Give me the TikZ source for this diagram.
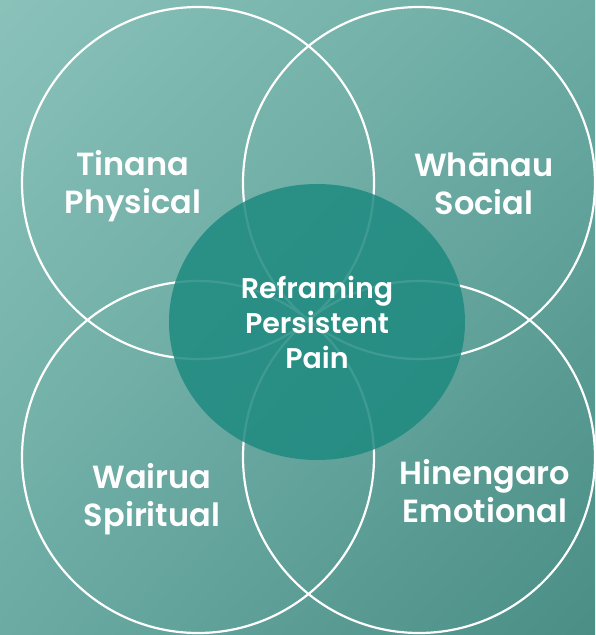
\documentclass[tikz,border=0pt]{standalone}
\usepackage{fontspec}
\setmainfont{Poppins}[UprightFont=* SemiBold]
\usetikzlibrary{shadings}
\begin{document}
\begin{tikzpicture}[x=1pt,y=-1pt,
  ring/.style={draw=white,line width=2.2pt},
  lbl/.style={text=white,align=center,inner sep=0pt,font=\fontsize{32}{38}\selectfont},
  clbl/.style={text=white,align=center,inner sep=0pt,font=\fontsize{28.5}{35}\selectfont}]
\definecolor{bgA}{HTML}{8AC2BA}
\definecolor{bgM}{HTML}{6BABA3}
\definecolor{bgB}{HTML}{4A8E86}
\definecolor{core}{HTML}{1E8A80}
\useasboundingbox (0,0) rectangle (595,635);
\shade[upper left=bgA,upper right=bgM,lower left=bgM,lower right=bgB] (0,0) rectangle (595,635);
\coordinate (ctl) at (198,183);
\coordinate (ctr) at (419,183);
\coordinate (cbl) at (198,457);
\coordinate (cbr) at (419,457);
\draw[ring] (ctl) circle[radius=176];
\draw[ring] (ctr) circle[radius=176];
\draw[ring] (cbl) circle[radius=176];
\draw[ring] (cbr) circle[radius=176];
\fill[core,opacity=0.85] (317,322) ellipse[x radius=148,y radius=138];
\node[lbl] (tl) at (133,186) {Tinana\\Physical};
\node[lbl] (tr) at (484,184) {Whānau\\Social};
\node[lbl] (bl) at (152,499) {Wairua\\Spiritual};
\node[lbl] (br) at (485,491) {Hinengaro\\Emotional};
\node[clbl] (c) at (317,322) {Reframing\\Persistent\\Pain};
\end{tikzpicture}
\end{document}
